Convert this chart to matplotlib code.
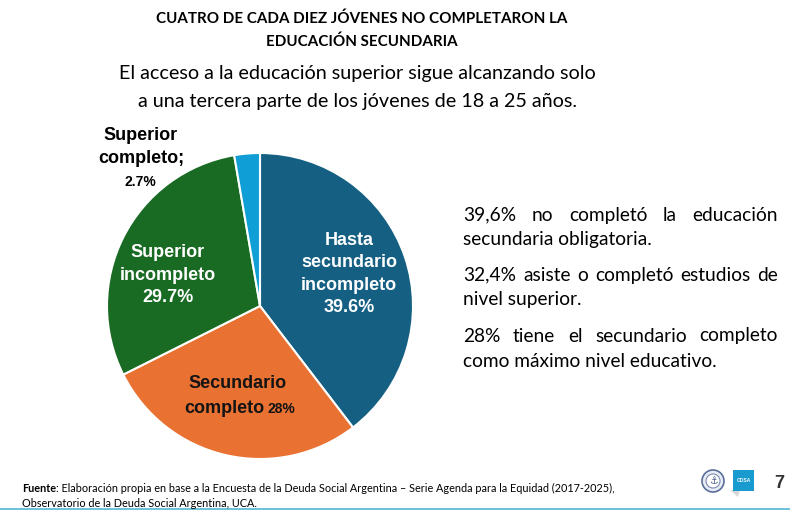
import matplotlib
matplotlib.use("Agg")
import matplotlib.pyplot as plt
from matplotlib.patches import Circle, Rectangle, Polygon

# ---------------- data ----------------
categories = ["Hasta secundario incompleto", "Secundario completo",
              "Superior incompleto", "Superior completo"]
values = [39.6, 28.0, 29.7, 2.7]
colors = ["#156082", "#E97132", "#196B24", "#0F9ED5"]

title_lines = ["CUATRO DE CADA DIEZ JÓVENES NO COMPLETARON LA", "EDUCACIÓN SECUNDARIA"]
subtitle_lines = ["El acceso a la educación superior sigue alcanzando solo",
                  "a una tercera parte de los jóvenes de 18 a 25 años."]
paragraphs = [
    ["39,6% no completó la educación", "secundaria obligatoria."],
    ["32,4% asiste o completó estudios de", "nivel superior."],
    ["28% tiene el secundario completo", "como máximo nivel educativo."],
]
footer_bold = "Fuente"
footer_rest = (": Elaboración propia en base a la Encuesta de la Deuda Social Argentina – "
               "Serie Agenda para la Equidad (2017-2025),")
footer_line2 = "Observatorio de la Deuda Social Argentina, UCA."
page_number = "7"

W, H = 790, 511
fig = plt.figure(figsize=(W / 100, H / 100), dpi=100)
fig.patch.set_facecolor("white")

def px(x, y):
    return x / W, 1 - y / H

TXT_FONT = ["Lato", "DejaVu Sans"]
LBL_FONT = ["Liberation Sans", "DejaVu Sans"]

# ---------------- titles ----------------
for t, y in zip(title_lines, [19, 42]):
    fig.text(*px(362, y), t, ha="center", va="center", fontsize=10.9,
             fontweight="bold", family=TXT_FONT, color="#000000")
for t, y in zip(subtitle_lines, [73, 101]):
    fig.text(*px(357, y), t, ha="center", va="center", fontsize=14.2,
             family=TXT_FONT, color="#000000")

# ---------------- pie ----------------
cx, cy, r = 260, 306, 153
ax = fig.add_axes([(cx - r) / W, (H - cy - r) / H, 2 * r / W, 2 * r / H])
wedges, _ = ax.pie(values, colors=colors, startangle=90, counterclock=False,
                   radius=1, wedgeprops=dict(edgecolor="white", linewidth=1.5))
ax.set_xlim(-1, 1)
ax.set_ylim(-1, 1)
ax.set_aspect("auto")
ax.axis("off")
for w in wedges:
    w.set_clip_on(False)

def ax_xy(x, y):
    return ((x - cx) / r, (cy - y) / r)

ls = 1.42
ax.text(*ax_xy(349, 274), "Hasta\nsecundario\nincompleto\n%.1f%%" % values[0],
        ha="center", va="center", color="white", fontsize=13, fontweight="bold",
        family=LBL_FONT, linespacing=ls)
ax.text(*ax_xy(168, 275), "Superior\nincompleto\n%.1f%%" % values[2],
        ha="center", va="center", color="white", fontsize=13, fontweight="bold",
        family=LBL_FONT, linespacing=ls)
ax.text(*ax_xy(238, 383), "Secundario", ha="center", va="center", color="#141414",
        fontsize=13, fontweight="bold", family=LBL_FONT)
ax.text(*ax_xy(264, 408), "completo", ha="right", va="center", color="#141414",
        fontsize=13, fontweight="bold", family=LBL_FONT)
ax.text(*ax_xy(267, 409), "%d%%" % round(values[1]), ha="left", va="center",
        color="#141414", fontsize=10, fontweight="bold", family=LBL_FONT)
ax.text(*ax_xy(141, 135), "Superior", ha="center", va="center", color="#000000",
        fontsize=13, fontweight="bold", family=LBL_FONT)
ax.text(*ax_xy(141, 158), "completo;", ha="center", va="center", color="#000000",
        fontsize=13, fontweight="bold", family=LBL_FONT)
ax.text(*ax_xy(140, 182), "%.1f%%" % values[3], ha="center", va="center",
        color="#000000", fontsize=10, fontweight="bold", family=LBL_FONT)

# ---------------- right justified text ----------------
fig.canvas.draw()
renderer = fig.canvas.get_renderer()
x0, x1 = 463, 778
line_ys = [[215, 239], [275, 299], [336, 361]]
FS = 13.8
for para, ys in zip(paragraphs, line_ys):
    for i, (line, y) in enumerate(zip(para, ys)):
        last = i == len(para) - 1
        if last:
            fig.text(*px(x0, y), line, ha="left", va="center", fontsize=FS,
                     family=TXT_FONT, color="#000000")
            continue
        words = line.split(" ")
        objs = [fig.text(0, px(0, y)[1], w_, ha="left", va="center", fontsize=FS,
                         family=TXT_FONT, color="#000000") for w_ in words]
        widths = [o.get_window_extent(renderer).width for o in objs]
        gap = (x1 - x0 - sum(widths)) / (len(words) - 1)
        xx = x0
        for o, wd in zip(objs, widths):
            o.set_x(xx / W)
            xx += wd + gap

# ---------------- footer ----------------
FF = 7.8
t1 = fig.text(*px(22, 488), footer_bold, ha="left", va="center", fontsize=FF,
              fontweight="bold", family=TXT_FONT, color="#000000")
fig.canvas.draw()
bw = t1.get_window_extent(fig.canvas.get_renderer()).width
fig.text(*px(22 + bw, 488), footer_rest, ha="left", va="center", fontsize=FF,
         family=TXT_FONT, color="#000000")
fig.text(*px(22, 503), footer_line2, ha="left", va="center", fontsize=FF,
         family=TXT_FONT, color="#000000")

# bottom rule
fig.add_artist(plt.Line2D([0, 1], [px(0, 509)[1]] * 2, color="#4FB8D3", lw=1.2,
                          transform=fig.transFigure))

# logos
lax = fig.add_axes([0, 0, 1, 1], facecolor="none")
lax.set_xlim(0, W)
lax.set_ylim(H, 0)
lax.axis("off")
lax.add_patch(Circle((713, 481), 11, facecolor="#E8ECF4", edgecolor="#5A6E9A", lw=1.2))
lax.add_patch(Circle((713, 481), 7, facecolor="white", edgecolor="#7A8AB0", lw=0.8))
lax.text(713, 481, "⚓", ha="center", va="center", fontsize=7, color="#4A5E8A",
         family=["DejaVu Sans"])
lax.add_patch(Polygon([[730, 490], [738, 497], [740, 490]], closed=True,
                      facecolor="#D8D8D8", edgecolor="none"))
lax.add_patch(Rectangle((733, 470), 21, 21, facecolor="#1A9BD0", edgecolor="none"))
lax.text(743.5, 481, "ODSA", ha="center", va="center", fontsize=3.5, color="white",
         fontweight="bold", family=LBL_FONT)
lax.text(779, 483, page_number, ha="center", va="center", fontsize=13,
         fontweight="bold", color="#333333", family=LBL_FONT)

fig.savefig("out.png", dpi=100, facecolor="white")
